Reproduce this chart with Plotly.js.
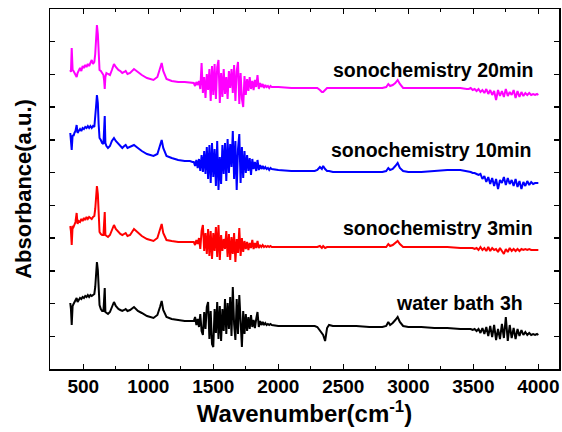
<!DOCTYPE html>
<html>
<head>
<meta charset="utf-8">
<script src="https://cdn.plot.ly/plotly-3.0.1.min.js"></script>
<style>html,body{margin:0;padding:0;background:#fff;}#chart{width:562px;height:432px;}</style>
</head>
<body>
<div id="chart"></div>
<script>
// Wavenumber grid (cm-1), shared by all spectra
var wavenumber = [
  400,405,411,418,425,432,440,449,456,465,475,485,495,505,515,525,535,545,555,565,575,585,592,598,605,612,618,625,635,645,655,660,665,670,678,690,705,720,736,750,770,785,800,815,826,840,860,890,920,950,990,1040,1070,1090,1103,1115,1140,1180,1230,1280,1320,1340,
  1350,1360,1370,1380,1390,1400,1410,1420,1430,1440,1450,1460,1470,1480,1490,1500,1510,1520,1530,1540,1550,1560,1570,1580,1590,1600,1610,1620,1630,1640,1650,1660,1670,1680,1690,1700,1710,1720,1730,1740,1750,1760,1770,1780,1790,1800,1810,1820,1830,1840,1850,1860,1870,1880,1890,1900,1910,1920,1930,1940,1950,
  2000,2100,2200,2280,2300,2320,2335,2345,2360,2375,2390,2420,2500,2600,2700,2800,2830,2846,2860,2880,2900,2918,2935,2960,3000,3100,3200,3300,3400,3450,
  3465,3480,3495,3510,3525,3540,3555,3570,3585,3600,3615,3630,3645,3660,3675,3690,3705,3720,3735,3750,3765,3780,3795,3810,3825,3840,3855,3870,3885,3900,3915,3930,3945,3960,3975,3990,4000
];

// Offset absorbance (a.u.)
var sono20min = [
  299,297,321,299,298,296,294,292,296,299,301,298,303,301,304,302,305,303,306,309,305,307,315,332,344,335,310,299,298,296,294,289,280,292,296,295,294,299,305,302,299,298,296,297,298,295,296,300,297,294,291,289,292,300,306,298,290,288,287,287,286,286,
  286,283,287,284,288,280,306,276,292,271,295,279,300,268,303,274,305,270,302,309,266,296,272,300,275,292,270,298,281,300,276,304,268,298,307,265,296,270,262,293,274,290,278,292,280,288,279,289,282,294,280,286,282,285,281,284,282,283,281,283,282,
  282,281,281,281,281,279,277,277,279,281,281,281,281,281,281,281,282,285,283,284,286,289,285,281,281,281,281,281,281,280,
  280,281,279,280,278,280,277,279,276,280,275,279,274,278,269,279,273,278,272,280,273,277,274,279,271,278,272,277,273,276,274,276,274,275,274,275,274
];

var sono10min = [
  236,230,219,234,233,236,238,244,236,238,240,238,241,240,242,241,243,241,243,241,243,242,250,262,274,266,245,231,229,226,225,240,253,226,223,221,223,228,231,228,225,223,221,223,224,221,222,224,221,218,215,213,215,223,229,221,213,211,209,208,208,207,
  207,203,209,201,210,198,214,197,218,195,222,190,224,186,226,192,220,183,228,179,212,185,224,195,226,188,230,196,225,202,238,190,228,179,220,235,186,222,191,218,196,214,198,211,194,210,200,207,198,209,199,204,200,203,200,202,200,201,199,201,200,
  199,198,198,198,199,202,200,203,200,198,198,197,197,197,197,197,198,201,199,200,203,206,201,198,197,197,198,199,199,198,
  197,197,196,196,195,194,195,190,193,187,192,185,191,183,190,180,189,186,192,184,191,185,189,183,190,182,188,180,187,183,188,184,187,185,186,186,186
];

var sono3min = [
  143,138,124,143,142,145,147,156,145,148,147,150,148,151,149,152,150,152,151,150,152,153,160,170,183,175,150,137,135,134,134,148,157,134,133,132,134,139,144,140,137,135,134,135,136,133,134,140,136,133,130,128,131,139,145,136,129,128,127,127,127,127,
  127,124,129,125,131,120,138,144,118,136,115,140,113,138,110,136,118,142,112,144,109,134,118,130,120,138,112,135,109,132,115,136,107,130,116,141,113,131,117,128,120,127,119,126,121,129,120,126,121,128,121,124,122,124,122,123,122,123,122,123,122,
  122,122,122,122,122,123,121,123,121,122,122,122,122,122,122,122,122,125,123,124,126,128,125,122,122,122,122,122,121,121,
  121,121,121,120,121,119,122,119,121,118,122,118,121,119,120,117,121,118,115,120,117,121,118,120,118,120,118,120,119,120,119,120,119,119,119,119,119
];

var waterBath3h = [
  66,60,44,63,65,67,68,71,67,69,71,70,72,71,73,72,74,72,74,73,74,75,82,94,107,99,75,64,60,58,58,70,81,57,56,55,57,63,67,63,60,59,58,59,60,58,59,62,58,56,53,51,54,62,68,59,52,50,49,48,48,48,
  48,52,44,50,42,55,38,34,57,40,62,67,30,58,25,22,60,36,67,30,63,28,60,38,70,35,66,40,72,33,82,45,29,70,35,74,40,22,58,35,55,38,52,40,54,42,49,41,50,57,42,48,44,47,44,46,44,45,44,45,44,
  43,43,43,43,42,38,36,34,28,41,44,43,43,43,42,42,43,47,44,46,49,52,47,43,42,42,41,41,40,40,
  40,40,39,40,38,40,36,41,35,42,33,43,32,44,29,40,30,45,31,52,28,44,31,41,30,40,33,39,34,37,34,36,34,35,34,35,34
];

var seriesNames = ['sonochemistry 20min', 'sonochemistry 10min', 'sonochemistry 3min', 'water bath 3h'];
var seriesColors = ['#FF00FF', '#0000FF', '#FF0000', '#000000'];
var seriesData = [sono20min, sono10min, sono3min, waterBath3h];
var labelX = [3975, 3960, 3975, 3898];
var labelY = [299, 219, 141, 66];

var FONT = 'Liberation Sans, Arial, sans-serif';

var traces = seriesData.map(function (ys, i) {
  return {
    x: wavenumber, y: ys, type: 'scatter', mode: 'lines', name: seriesNames[i],
    line: { color: seriesColors[i], width: 2 }, showlegend: false, hoverinfo: 'skip'
  };
});

var annotations = seriesNames.map(function (t, i) {
  return {
    x: labelX[i], y: labelY[i], xref: 'x', yref: 'y', text: '<b>' + t + '</b>', showarrow: false,
    xanchor: 'right', yanchor: 'middle',
    font: { family: FONT, size: 19.5, color: '#000' }
  };
});

var layout = {
  width: 562, height: 432,
  margin: { l: 50, r: 3, t: 9, b: 63 },
  paper_bgcolor: '#fff', plot_bgcolor: '#fff',
  font: { family: FONT, color: '#000' },
  xaxis: {
    range: [244, 4159], tick0: 500, dtick: 500,
    ticks: 'inside', ticklen: 5, tickwidth: 1.5, tickcolor: '#000',
    minor: { dtick: 250, ticks: 'inside', ticklen: 3, tickwidth: 1.2, tickcolor: '#000' },
    showline: true, linewidth: 1.5, linecolor: '#000', mirror: 'ticks',
    showgrid: false, zeroline: false,
    tickfont: { size: 19, family: FONT, color: '#000', weight: 'bold' },
    title: { text: '<b>Wavenumber(cm<sup>-1</sup>)</b>', font: { size: 24, family: FONT, color: '#000' }, standoff: 2 }
  },
  yaxis: {
    range: [0, 360], tick0: 0, dtick: 360 / 11,
    ticks: 'inside', ticklen: 5, tickwidth: 1.5, tickcolor: '#000',
    showticklabels: false,
    showline: true, linewidth: 1.5, linecolor: '#000', mirror: 'ticks',
    showgrid: false, zeroline: false,
    title: { text: '<b>Absorbance(a.u.)</b>', font: { size: 22, family: FONT, color: '#000' }, standoff: 11 }
  },
  annotations: annotations
};

Plotly.newPlot('chart', traces, layout, { displayModeBar: false, staticPlot: true });
</script>
</body>
</html>
